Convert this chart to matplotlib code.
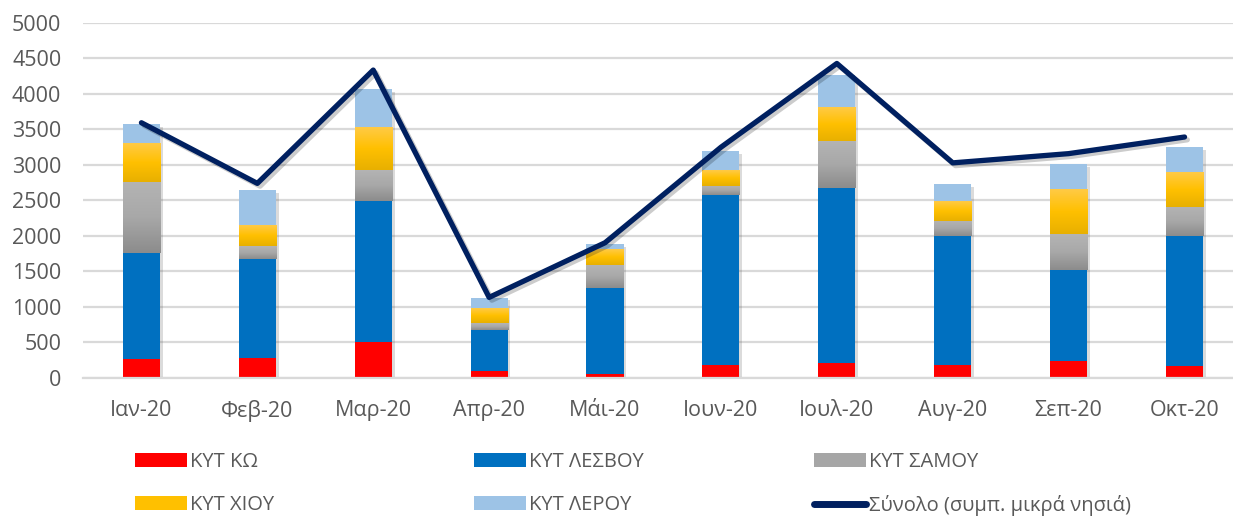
import matplotlib.pyplot as plt
import matplotlib.patheffects as pe
import numpy as np
from matplotlib.colors import LinearSegmentedColormap
from matplotlib.patches import Patch
from matplotlib.lines import Line2D

plt.rcParams['font.family'] = ['Open Sans', 'DejaVu Sans']

# data
months = ['Ιαν-20', 'Φεβ-20', 'Μαρ-20', 'Απρ-20', 'Μάι-20',
          'Ιουν-20', 'Ιουλ-20', 'Αυγ-20', 'Σεπ-20', 'Οκτ-20']
kos = [267, 286, 511, 99, 61, 183, 211, 183, 239, 173]
lesvos = [1493, 1390, 1981, 577, 1211, 2394, 2464, 1816, 1282, 1826]
samos = [1004, 183, 437, 94, 319, 131, 662, 212, 507, 409]
chios = [540, 295, 596, 201, 225, 225, 469, 281, 623, 479]
leros = [272, 493, 544, 160, 71, 263, 460, 240, 362, 366]
total = [3595, 2741, 4337, 1135, 1905, 3250, 4430, 3030, 3160, 3394]

labels = ['ΚΥΤ ΚΩ', 'ΚΥΤ ΛΕΣΒΟΥ', 'ΚΥΤ ΣΑΜΟΥ', 'ΚΥΤ ΧΙΟΥ', 'ΚΥΤ ΛΕΡΟΥ']
total_label = 'Σύνολο (συμπ. μικρά νησιά)'

text_col = '#595959'
grid_col = '#d9d9d9'
fs = 15.5

fig = plt.figure(figsize=(12.33, 5.18), dpi=100)
ax = fig.add_axes([0.0677, 0.2703, 0.94, 0.6853])

x = np.arange(len(months))
w = 0.32
series = [kos, lesvos, samos, chios, leros]
solid = ['#ff0000', '#0070c0', '#a6a6a6', '#ffc000', '#9dc3e6']
# gradients (bottom -> top) for the gray and yellow segments
grads = {2: ['#8c8c8c', '#a8a8a8', '#b4b4b4'],
         3: ['#e8b000', '#ffc000', '#ffca45']}

# soft shadow behind each whole stack
stack = np.sum(series, axis=0)
ax.bar(x, stack, w, color='white', linewidth=0, zorder=1.9,
       path_effects=[pe.SimplePatchShadow(offset=(2, -2), alpha=0.2), pe.Normal()])

bottom = np.zeros(len(months))
for i, vals in enumerate(series):
    bars = ax.bar(x, vals, w, bottom=bottom, color=solid[i], zorder=2, linewidth=0)
    if i in grads:
        cmap = LinearSegmentedColormap.from_list('g%d' % i, grads[i])
        g = np.linspace(0, 1, 64).reshape(-1, 1)
        for b in bars:
            x0, y0 = b.get_x(), b.get_y()
            ax.imshow(g, cmap=cmap, origin='lower', aspect='auto', zorder=2.1,
                      extent=[x0, x0 + b.get_width(), y0, y0 + b.get_height()])
    bottom += np.array(vals)

ax.plot(x, total, color='#002060', lw=3.8, zorder=3, solid_joinstyle='round',
        solid_capstyle='round',
        path_effects=[pe.SimpleLineShadow(offset=(2, -2), alpha=0.2), pe.Normal()])

ax.set_xlim(-0.5, len(months) - 0.5)
ax.set_ylim(0, 5000)
ax.set_yticks(range(0, 5001, 500))
ax.set_xticks(x)
ax.set_xticklabels(months)
ax.yaxis.grid(True, color=grid_col, lw=1.6, zorder=0)
ax.set_axisbelow(True)
for s in ['top', 'right', 'left']:
    ax.spines[s].set_visible(False)
ax.spines['bottom'].set_color(grid_col)
ax.spines['bottom'].set_linewidth(1.6)
ax.tick_params(axis='both', length=0, labelsize=fs, colors=text_col)
ax.tick_params(axis='x', pad=16)
ax.tick_params(axis='y', pad=16)

# legend: three columns of two rows
h = [Patch(facecolor=c, edgecolor='none') for c in solid]
h.append(Line2D([0], [0], color='#002060', lw=5, solid_capstyle='round'))
names = labels + [total_label]
cols = [(0, 3), (1, 4), (2, 5)]
xs = [135, 474, 814]
for (a, b), xp in zip(cols, xs):
    leg = fig.legend([h[a], h[b]], [names[a], names[b]], loc='upper left',
                     bbox_to_anchor=(xp / 1233, 1 - 452 / 518), frameon=False,
                     borderpad=0, borderaxespad=0, handlelength=2.6, handleheight=0.7,
                     handletextpad=0.15, labelspacing=1.15, fontsize=14.5)
    for t in leg.get_texts():
        t.set_color(text_col)

fig.savefig('out.png', dpi=100)
